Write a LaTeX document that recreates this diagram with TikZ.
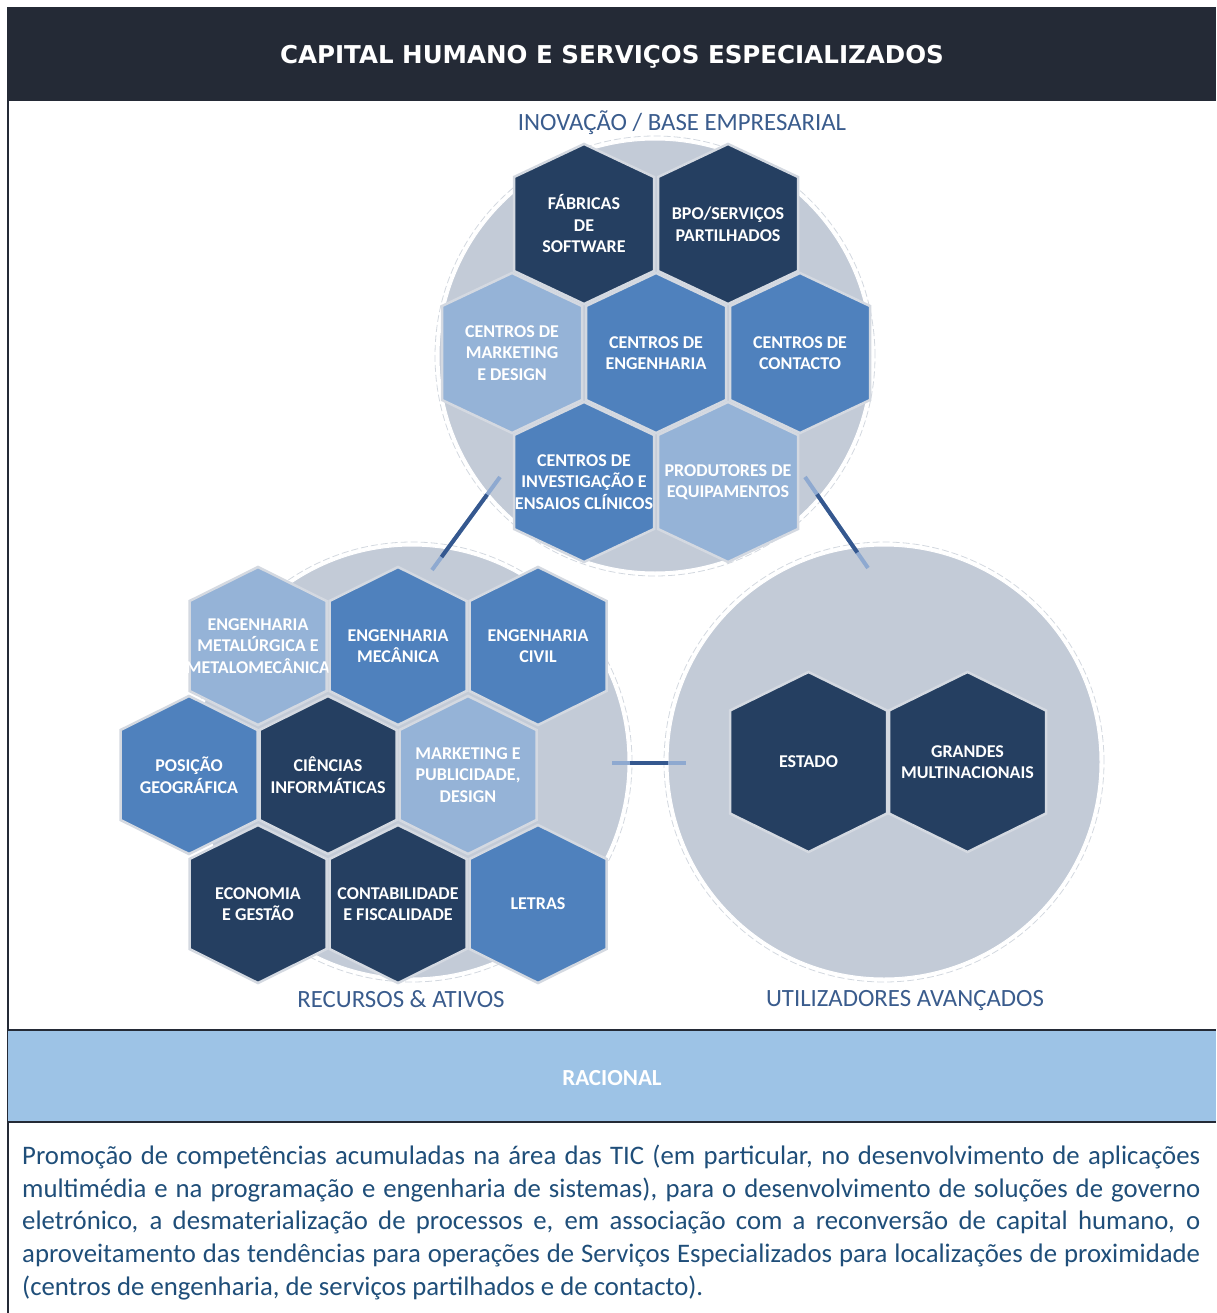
\documentclass[tikz,border=0pt]{standalone}
\usepackage{fontspec}
\setmainfont{Carlito}
\newfontfamily\titlefont{DejaVu Sans}
\usetikzlibrary{calc}
\definecolor{titlebg}{HTML}{242A36}
\definecolor{framecol}{HTML}{242A36}
\definecolor{racionalbg}{HTML}{9DC3E6}
\definecolor{bodyblue}{HTML}{1F4E79}
\definecolor{seclabel}{HTML}{3A5C8D}
\definecolor{circfill}{HTML}{C3CBD7}
\definecolor{ringcol}{HTML}{D3D8DF}
\definecolor{hexdark}{HTML}{253F61}
\definecolor{hexmid}{HTML}{4F81BD}
\definecolor{hexlight}{HTML}{95B3D7}
\definecolor{hexedge}{HTML}{D4D9E1}
\definecolor{condarkc}{HTML}{35588F}
\definecolor{conlightc}{HTML}{8EA9D0}
\newcommand\hexcell[4]{%
  \path[shift={#2}, fill=#3, draw=hexedge, line width=2.5pt]
    (0,-\hT) -- (\hw,-\hs) -- (\hw,\hs) -- (0,\hT) -- (-\hw,\hs) -- (-\hw,-\hs) -- cycle;
  \node[hexlabel] (#1) at #2 {#4};
}
\begin{document}
\begin{tikzpicture}[x=1pt,y=-1pt,
  hexlabel/.style={align=center, text=white, inner sep=0pt,
    font=\bfseries\fontsize{18}{21.5}\selectfont},
  circ/.style={circle, fill=circfill, draw=white, line width=1pt, minimum size=432pt, inner sep=0pt},
  ring/.style={draw=ringcol, dashed, dash pattern=on 7pt off 3pt, line width=0.8pt},
  sectext/.style={text=seclabel, font=\fontsize{24.8}{28}\selectfont, inner sep=0pt, anchor=base},
  framerule/.style={draw=framecol, line width=2pt},
  conlight/.style={draw=conlightc, line width=4pt},
  condark/.style={draw=condarkc, line width=4pt}
]
\useasboundingbox (0,0) rectangle (1216,1313);
% header
\fill[titlebg] (7,7) rectangle (1216,101);
\node[text=white, inner sep=0pt, anchor=base,
  font=\titlefont\bfseries\fontsize{24.55}{28}\selectfont] (title) at (612,64)
  {CAPITAL HUMANO E SERVIÇOS ESPECIALIZADOS};
% frame and racional band
\draw[framerule] (8,101) -- (8,1313);
\fill[racionalbg] (8,1030) rectangle (1216,1122);
\draw[framerule] (8,1030) -- (1216,1030);
\draw[framerule] (8,1122) -- (1216,1122);
\node[text=white, inner sep=0pt, anchor=base,
  font=\bfseries\fontsize{23}{27}\selectfont] (racional) at (612,1085) {RACIONAL};
% circles
\node[circ] (ctop) at (655,356) {};
\node[circ] (cleft) at (412,762) {};
\node[circ] (cright) at (884,762) {};
\draw[ring] (ctop.center) circle[radius=220pt];
\draw[ring] (cleft.center) circle[radius=220pt];
\draw[ring] (cright.center) circle[radius=220pt];
% connectors
\coordinate (tla) at (500,477); \coordinate (tlb) at (432,570);
\coordinate (tra) at (805,477); \coordinate (trb) at (868,568);
\coordinate (lra) at (612,763); \coordinate (lrb) at (686,763);
\draw[conlight] (tla) -- (tlb);
\draw[condark] ($(tla)!0.19!(tlb)$) -- ($(tla)!0.86!(tlb)$);
\draw[conlight] (tra) -- (trb);
\draw[condark] ($(tra)!0.19!(trb)$) -- ($(tra)!0.83!(trb)$);
\draw[conlight] (lra) -- (lrb);
\draw[condark] ($(lra)!0.24!(lrb)$) -- ($(lra)!0.76!(lrb)$);
% top cluster
\def\hw{70}\def\hs{47}\def\hT{80}
\hexcell{fab}{(584,224)}{hexdark}{FÁBRICAS\\DE\\SOFTWARE}
\hexcell{bpo}{(728,224)}{hexdark}{BPO/SERVIÇOS\\PARTILHADOS}
\hexcell{cmk}{(512,353)}{hexlight}{CENTROS DE\\MARKETING\\E DESIGN}
\hexcell{ceng}{(656,353)}{hexmid}{CENTROS DE\\ENGENHARIA}
\hexcell{ccon}{(800,353)}{hexmid}{CENTROS DE\\CONTACTO}
\hexcell{cinv}{(584,482)}{hexmid}{CENTROS DE\\INVESTIGAÇÃO E\\ENSAIOS CLÍNICOS}
\hexcell{prod}{(728,482)}{hexlight}{PRODUTORES DE\\EQUIPAMENTOS}
% left cluster
\def\hw{68.5}\def\hs{45}\def\hT{79}
\hexcell{emet}{(258,646)}{hexlight}{ENGENHARIA\\METALÚRGICA E\\METALOMECÂNICA}
\hexcell{emec}{(398,646)}{hexmid}{ENGENHARIA\\MECÂNICA}
\hexcell{eciv}{(538,646)}{hexmid}{ENGENHARIA\\CIVIL}
\hexcell{pos}{(189,775)}{hexmid}{POSIÇÃO\\GEOGRÁFICA}
\hexcell{cie}{(328,775)}{hexdark}{CIÊNCIAS\\INFORMÁTICAS}
\hexcell{mkt}{(468,775)}{hexlight}{MARKETING E\\PUBLICIDADE,\\DESIGN}
\hexcell{eco}{(258,904)}{hexdark}{ECONOMIA\\E GESTÃO}
\hexcell{cont}{(398,904)}{hexdark}{CONTABILIDADE\\E FISCALIDADE}
\hexcell{let}{(538,904)}{hexmid}{LETRAS}
% right cluster
\def\hw{78.5}\def\hs{51.5}\def\hT{90}
\hexcell{est}{(808.5,762)}{hexdark}{ESTADO}
\hexcell{gm}{(967.5,762)}{hexdark}{GRANDES\\MULTINACIONAIS}
% section labels
\node[sectext] (lbtop) at (682,131) {INOVAÇÃO / BASE EMPRESARIAL};
\node[sectext] (lbleft) at (401,1007) {RECURSOS \& ATIVOS};
\node[sectext] (lbright) at (905,1006) {UTILIZADORES AVANÇADOS};
% body text
\node[anchor=north west, inner sep=0pt, align=left, text=bodyblue,
  font=\fontsize{26.75}{32.75}\selectfont] (body) at (22,1144.5)
 {\makebox[1178pt][s]{Promoção de competências acumuladas na área das TIC (em particular, no desenvolvimento de aplicações}\\
  \makebox[1178pt][s]{multimédia e na programação e engenharia de sistemas), para o desenvolvimento de soluções de governo}\\
  \makebox[1178pt][s]{eletrónico, a desmaterialização de processos e, em associação com a reconversão de capital humano, o}\\
  \makebox[1178pt][s]{aproveitamento das tendências para operações de Serviços Especializados para localizações de proximidade}\\
  (centros de engenharia, de serviços partilhados e de contacto).};
\end{tikzpicture}
\end{document}
